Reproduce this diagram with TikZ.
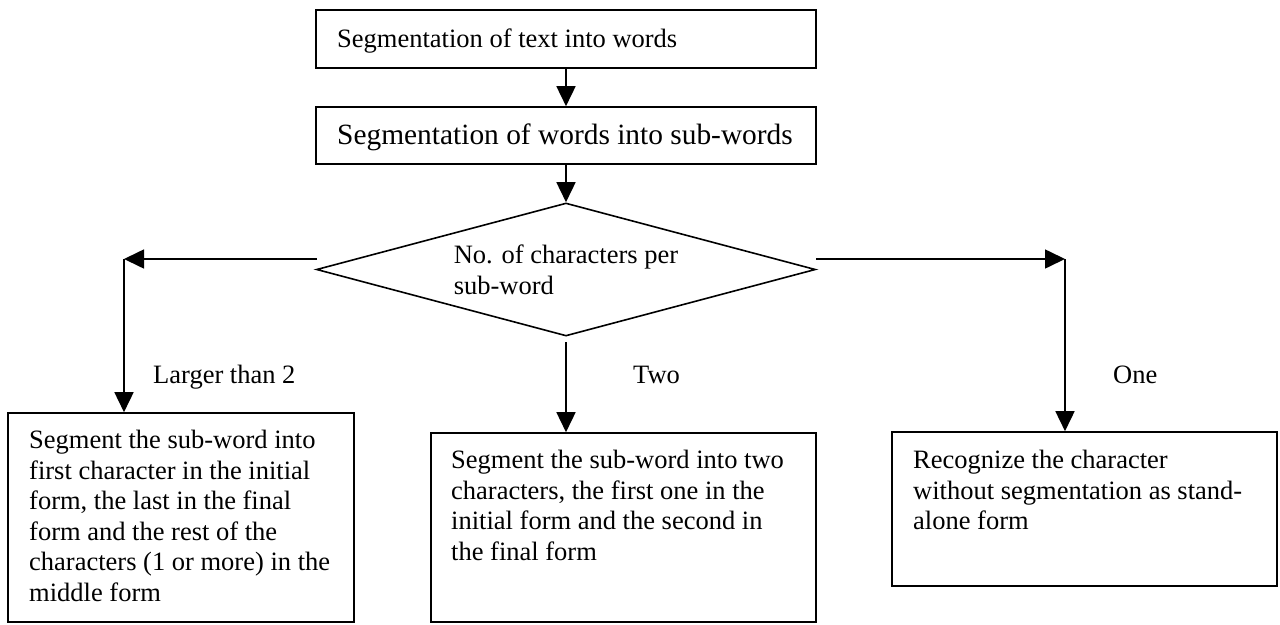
\documentclass[tikz,border=0pt]{standalone}
\usepackage{fontspec}
\setmainfont{Liberation Serif}
\usetikzlibrary{arrows.meta,shapes.geometric}
\begin{document}
\begin{tikzpicture}[x=1pt,y=-1pt,
  box/.style={draw,line width=1.6pt,rectangle,inner sep=0pt},
  body/.style={font=\fontsize{26.5}{30.6}\selectfont},
  txt/.style={body,inner sep=0pt,align=left,anchor=north west},
  lbl/.style={body,inner sep=0pt,anchor=base west},
  arr/.style={line width=1.6pt,-{Triangle[length=20pt,width=19pt]}}]
\useasboundingbox[fill=white] (0,0) rectangle (1280,624);
% boxes
\node[box,minimum width=500pt,minimum height=58pt] (b1) at (566,39) {};
\node[box,minimum width=500pt,minimum height=57pt] (b2) at (566,135.5) {};
\node[box,minimum width=346pt,minimum height=209pt] (bL) at (181,517.5) {};
\node[box,minimum width=385pt,minimum height=189pt] (bM) at (623.5,527.5) {};
\node[box,minimum width=385pt,minimum height=154pt] (bR) at (1084.5,509) {};
% decision
\node[draw,diamond,line width=1.6pt,minimum width=499pt,minimum height=133pt,
  aspect=3.75,inner sep=0pt,align=left,body] (d) at (566,269.5)
  {No. of characters per\\sub-word};
% texts
\node[lbl] (t1) at (337,47) {Segmentation of text into words};
\node[lbl,font=\fontsize{29.4}{34}\selectfont] (t2) at (337,144) {Segmentation of words into sub-words};
\node[txt] (tL) at (29,430) {Segment the sub-word into\\first character in the initial\\form, the last in the final\\form and the rest of the\\characters (1 or more) in the\\middle form};
\node[txt] (tM) at (451,450) {Segment the sub-word into two\\characters, the first one in the\\initial form and the second in\\the final form};
\node[txt] (tR) at (913,450) {Recognize the character\\without segmentation as stand-\\alone form};
% labels
\node[lbl] (lL) at (153,383) {Larger than 2};
\node[lbl] (lM) at (633,383) {Two};
\node[lbl] (lR) at (1113,383) {One};
% connectors
\coordinate (lA) at (317,259);
\coordinate (lC) at (124,259);
\coordinate (rA) at (816,259);
\coordinate (rC) at (1065,259);
\coordinate (mA) at (566,342);
\draw[arr] (b1) -- (b2);
\draw[arr] (b2) -- (d);
\draw[arr] (lA) -- (lC);
\draw[arr] (lC) -- (lC |- bL.north);
\draw[arr] (rA) -- (rC);
\draw[arr] (rC) -- (rC |- bR.north);
\draw[arr] (mA) -- (mA |- bM.north);
\end{tikzpicture}
\end{document}
